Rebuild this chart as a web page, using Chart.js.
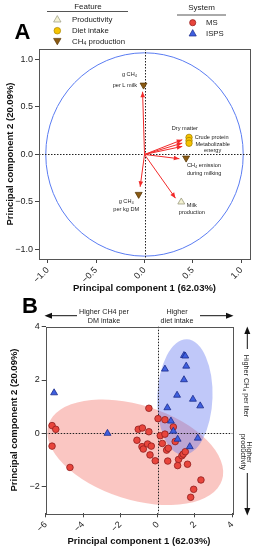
<!DOCTYPE html>
<html>
<head>
<meta charset="utf-8">
<script src="https://cdn.jsdelivr.net/npm/chart.js@4.4.1/dist/chart.umd.min.js"></script>
<style>
  body { margin: 0; width: 255px; height: 550px; background: #fff; position: relative; overflow: hidden; }
  canvas { position: absolute; left: 0; }
  #chartA { top: 0; }
  #chartB { top: 300px; }
  #overlay { position: absolute; left: 0; top: 0; pointer-events: none; }
</style>
</head>
<body>
<canvas id="chartA" width="255" height="300"></canvas>
<canvas id="chartB" width="255" height="250"></canvas>

<svg id="overlay" width="255" height="550" font-family="Liberation Sans, Arial, sans-serif" fill="#222">
  <!-- legend: Feature -->
  <text x="88" y="6" font-size="8" text-anchor="middle" dominant-baseline="central">Feature</text>
  <line x1="47" y1="11.5" x2="128" y2="11.5" stroke="#555" stroke-width="1"/>
  <polygon points="57.3,15.6 53.6,22 61,22" fill="#f4f2d2" stroke="#9a9a80" stroke-width="0.7"/>
  <text x="72" y="19.3" font-size="7.8" dominant-baseline="central">Productivity</text>
  <circle cx="57.3" cy="30.7" r="3.3" fill="#f6c400" stroke="#a88400" stroke-width="0.7"/>
  <text x="72" y="30.7" font-size="7.8" dominant-baseline="central">Diet intake</text>
  <polygon points="53.6,38.4 61,38.4 57.3,44.8" fill="#8b5a12" stroke="#5b3a08" stroke-width="0.7"/>
  <text x="72" y="41.7" font-size="7.8" dominant-baseline="central">CH₄ production</text>
  <!-- legend: System -->
  <text x="201.5" y="7" font-size="8" text-anchor="middle" dominant-baseline="central">System</text>
  <line x1="177" y1="15" x2="226" y2="15" stroke="#555" stroke-width="1"/>
  <circle cx="192.7" cy="22.7" r="3.1" fill="#e8453c" stroke="#8f1d1d" stroke-width="0.7"/>
  <text x="206" y="22.7" font-size="7.8" dominant-baseline="central">MS</text>
  <polygon points="192.7,29.6 189.1,36 196.3,36" fill="#3e5fe0" stroke="#1c2c8a" stroke-width="0.7"/>
  <text x="206" y="33.3" font-size="7.8" dominant-baseline="central">ISPS</text>

  <!-- panel letters -->
  <text x="14.5" y="39" font-size="22" font-weight="bold" fill="#000">A</text>
  <text x="22" y="313" font-size="22" font-weight="bold" fill="#000">B</text>

  <!-- panel B: top arrows -->
  <line x1="51" y1="315.7" x2="77" y2="315.7" stroke="#111" stroke-width="1"/>
  <polygon points="44.5,315.7 52,312.7 52,318.7" fill="#111"/>
  <text x="104" y="311" font-size="7.2" text-anchor="middle" dominant-baseline="central">Higher CH4 per</text>
  <text x="104" y="320" font-size="7.2" text-anchor="middle" dominant-baseline="central">DM intake</text>
  <text x="177" y="311" font-size="7.2" text-anchor="middle" dominant-baseline="central">Higher</text>
  <text x="177" y="320" font-size="7.2" text-anchor="middle" dominant-baseline="central">diet intake</text>
  <line x1="200" y1="315.7" x2="227" y2="315.7" stroke="#111" stroke-width="1"/>
  <polygon points="233.5,315.7 226,312.7 226,318.7" fill="#111"/>

  <!-- panel B: right arrows -->
  <polygon points="247.3,326.5 244.3,334 250.3,334" fill="#111"/>
  <line x1="247.3" y1="333" x2="247.3" y2="349" stroke="#111" stroke-width="1"/>
  <text transform="translate(246.7,386) rotate(90)" font-size="7.2" text-anchor="middle" dominant-baseline="central">Higher CH₄ per liter</text>
  <text transform="translate(249.7,452) rotate(90)" font-size="7.2" text-anchor="middle" dominant-baseline="central">Higher</text>
  <text transform="translate(243.5,452) rotate(90)" font-size="7.2" text-anchor="middle" dominant-baseline="central">productivity</text>
  <line x1="247.3" y1="473" x2="247.3" y2="509" stroke="#111" stroke-width="1"/>
  <polygon points="247.3,515.5 244.3,508 250.3,508" fill="#111"/>
</svg>

<script>
const FONT = '"Liberation Sans", Arial, sans-serif';

// ---- Panel A: loadings ----
const featureNames = ['g CH₄ per L milk', 'Dry matter', 'Crude protein', 'Metabolizable energy',
                      'CH₄ emission during milking', 'g CH₄ per kg DM', 'Milk production'];
const featureGroup = ['ch4', 'diet', 'diet', 'diet', 'ch4', 'ch4', 'prod'];
// arrow tips
const arrowX = [-0.02, 0.39, 0.39, 0.39, 0.36, -0.045, 0.32];
const arrowY = [0.66, 0.155, 0.12, 0.085, -0.045, -0.34, -0.46];
// feature markers
const pointX = [-0.01, 0.46, 0.46, 0.46, 0.43, -0.06, 0.38];
const pointY = [0.73, 0.18, 0.147, 0.118, -0.038, -0.42, -0.50];
const xTicksA = [-1, -0.5, 0, 0.5, 1];
const yTicksA = [-1, -0.5, 0, 0.5, 1];

// ---- Panel B: scores ----
const msX = [-5.66, -5.46, -5.66, -4.70, -0.47, -1.04, -0.82, -0.47, -1.11, -0.84, -0.77, -0.54,
             -0.34, -0.41, -0.13, 0.02, 0.14, 0.25, 0.39, 0.39, 0.48, 0.57, 0.54, 0.84,
             0.94, 1.12, 1.07, 1.30, 1.37, 1.48, 1.60, 2.32, 1.93, 1.77];
const msY = [0.29, 0.15, -0.48, -1.28, 0.94, 0.15, 0.20, 0.06, -0.26, -0.50, -0.59, -0.40,
             -0.48, -0.81, -1.03, 0.55, -0.09, -0.38, 0.51, -0.03, -0.63, -0.56, -1.04, 0.24,
             -0.31, -0.98, -1.21, -0.84, -0.78, -0.69, -1.16, -1.75, -2.10, -2.40];
const ispsX = [-5.55, -2.69, 0.39, 1.41, 1.48, 1.53, 1.41, 1.04, 1.89, 2.28, 0.52, 0.71, 0.84, 1.07, 2.15, 1.72];
const ispsY = [1.52, 0.00, 2.41, 2.92, 2.90, 2.52, 2.01, 1.43, 1.28, 1.03, 0.96, 0.46, 0.08, -0.22, -0.18, -0.50];
const xTicksB = [-6, -4, -2, 0, 2, 4];
const yTicksB = [-2, 0, 2, 4];

// correlation circle and confidence ellipses: centre and semi-axes in data units, tilt in degrees
const circleA = { cx: 0, cy: 0, rx: 1.02, ry: 1.07, tilt: 0, stroke: '#5a7cf2' };
const ellipseMS = { cx: -1.2, cy: -0.71, rx: 4.88, ry: 1.77, tilt: 17.7, fill: 'rgba(244,120,110,0.42)' };
const ellipseISPS = { cx: 1.46, cy: 1.36, rx: 1.48, ry: 2.17, tilt: 2, fill: 'rgba(90,110,240,0.38)' };

// feature labels (anchor of first line in data units)
const labelsA = [
  { lines: ['g CH₄', 'per L milk'], x: -0.078, y: 0.84, align: 'right', gap: 11 },
  { lines: ['Dry matter'], x: 0.417, y: 0.278, align: 'center', gap: 0 },
  { lines: ['Crude protein'], x: 0.518, y: 0.179, align: 'left', gap: 0 },
  { lines: ['Metabolizable', 'energy'], x: 0.704, y: 0.109, align: 'center', gap: 6.7 },
  { lines: ['CH₄ emission', 'during milking'], x: 0.438, y: -0.116, align: 'left', gap: 8.3 },
  { lines: ['g CH₄', 'per kg DM'], x: -0.189, y: -0.495, align: 'center', gap: 8.3 },
  { lines: ['Milk', 'production'], x: 0.489, y: -0.54, align: 'center', gap: 6.3 }
];

function fmt(v, digits) {
  return (v < 0 ? '\u2212' : '') + Math.abs(v).toFixed(digits);
}

function axis(opts) {
  const horiz = opts.horizontal;
  return {
    type: 'linear',
    min: opts.min,
    max: opts.max,
    afterBuildTicks: s => { s.ticks = opts.ticks.map(v => ({ value: v })); },
    afterFit: s => { if (horiz) s.height = opts.size; else s.width = opts.size; },
    grid: { display: true, drawOnChartArea: false, drawTicks: true, tickLength: 4, tickColor: '#444', tickWidth: 1 },
    border: { display: false },
    ticks: {
      font: { family: FONT, size: 9 }, color: '#222', padding: 2, autoSkip: false,
      minRotation: horiz ? 45 : 0, maxRotation: horiz ? 45 : 0,
      callback: v => fmt(v, opts.digits)
    },
    title: {
      display: true, text: opts.title, color: '#111',
      font: { family: FONT, size: 9.5, weight: 'bold' },
      padding: opts.titlePad
    }
  };
}

// frame, zero lines, ellipses
function makeDecor(shapes) {
  return {
    id: 'decor',
    beforeDatasetsDraw(chart) {
      const { ctx, chartArea: a, scales: { x, y } } = chart;
      ctx.save();
      shapes.forEach(e => {
        const cx = x.getPixelForValue(e.cx), cy = y.getPixelForValue(e.cy);
        const rx = Math.abs(x.getPixelForValue(e.cx + e.rx) - cx);
        const ry = Math.abs(y.getPixelForValue(e.cy + e.ry) - cy);
        ctx.beginPath();
        ctx.ellipse(cx, cy, rx, ry, e.tilt * Math.PI / 180, 0, Math.PI * 2);
        if (e.fill) { ctx.fillStyle = e.fill; ctx.fill(); }
        if (e.stroke) { ctx.strokeStyle = e.stroke; ctx.lineWidth = 1; ctx.stroke(); }
      });
      ctx.strokeStyle = '#222';
      ctx.lineWidth = 1;
      ctx.setLineDash([1.5, 1.5]);
      const x0 = Math.round(x.getPixelForValue(0)) + 0.5;
      const y0 = Math.round(y.getPixelForValue(0)) + 0.5;
      ctx.beginPath();
      ctx.moveTo(x0, a.top); ctx.lineTo(x0, a.bottom);
      ctx.moveTo(a.left, y0); ctx.lineTo(a.right, y0);
      ctx.stroke();
      ctx.restore();
    },
    afterDraw(chart) {
      const { ctx, chartArea: a } = chart;
      ctx.save();
      ctx.strokeStyle = '#555';
      ctx.lineWidth = 1;
      ctx.strokeRect(Math.round(a.left) + 0.5, Math.round(a.top) + 0.5,
                     Math.round(a.right - a.left), Math.round(a.bottom - a.top));
      ctx.restore();
    }
  };
}

// arrowheads and feature labels for the loading plot
const loadings = {
  id: 'loadings',
  afterDatasetsDraw(chart) {
    const { ctx, scales: { x, y } } = chart;
    ctx.save();
    chart.data.datasets.forEach((ds, i) => {
      if (!ds.arrow) return;
      const pts = chart.getDatasetMeta(i).data;
      const p0 = pts[0], p1 = pts[1];
      const ang = Math.atan2(p1.y - p0.y, p1.x - p0.x);
      const len = 5.5, hw = 2.3;
      ctx.beginPath();
      ctx.moveTo(p1.x, p1.y);
      ctx.lineTo(p1.x - len * Math.cos(ang) + hw * Math.sin(ang), p1.y - len * Math.sin(ang) - hw * Math.cos(ang));
      ctx.lineTo(p1.x - len * Math.cos(ang) - hw * Math.sin(ang), p1.y - len * Math.sin(ang) + hw * Math.cos(ang));
      ctx.closePath();
      ctx.fillStyle = '#f22a2a';
      ctx.fill();
    });
    ctx.fillStyle = '#222';
    ctx.font = '5.6px ' + FONT;
    ctx.textBaseline = 'middle';
    labelsA.forEach(l => {
      ctx.textAlign = l.align;
      const px = x.getPixelForValue(l.x), py = y.getPixelForValue(l.y);
      l.lines.forEach((t, k) => ctx.fillText(t, px, py + k * l.gap));
    });
    ctx.restore();
  }
};

// ---- Chart A ----
const groupStyle = {
  prod: { pointStyle: 'triangle', rotation: 0, radius: 4, bg: '#f4f2d2', border: '#9a9a80' },
  diet: { pointStyle: 'circle', rotation: 0, radius: 3.2, bg: '#f6c400', border: '#a88400' },
  ch4: { pointStyle: 'triangle', rotation: 180, radius: 4, bg: '#8b5a12', border: '#5b3a08' }
};
const markerSets = Object.keys(groupStyle).map(g => {
  const st = groupStyle[g];
  const data = [];
  featureGroup.forEach((fg, i) => { if (fg === g) data.push({ x: pointX[i], y: pointY[i] }); });
  return {
    label: g, data, pointStyle: st.pointStyle, rotation: st.rotation, pointRadius: st.radius,
    backgroundColor: st.bg, borderColor: st.border, borderWidth: 0.8
  };
});
const arrowSets = featureNames.map((n, i) => ({
  type: 'line', label: n, arrow: true, showLine: true,
  data: [{ x: 0, y: 0 }, { x: arrowX[i], y: arrowY[i] }],
  borderColor: '#f22a2a', borderWidth: 1, pointRadius: 0, fill: false
}));

new Chart(document.getElementById('chartA'), {
  type: 'scatter',
  data: { datasets: [...markerSets, ...arrowSets] },
  options: {
    responsive: false, animation: false, devicePixelRatio: 1,
    layout: { padding: { top: 49, right: 5, left: 0, bottom: 0 } },
    scales: {
      x: axis({ horizontal: true, min: -1.09, max: 1.09, ticks: xTicksA, digits: 1, size: 41,
                title: 'Principal component 1 (62.03%)', titlePad: { top: 0, bottom: 6 } }),
      y: axis({ horizontal: false, min: -1.1, max: 1.11, ticks: yTicksA, digits: 1, size: 39,
                title: 'Principal component 2 (20.09%)', titlePad: { top: 5, bottom: 0 } })
    },
    plugins: { legend: { display: false }, tooltip: { enabled: false } }
  },
  plugins: [makeDecor([circleA]), loadings]
});

// ---- Chart B ----
new Chart(document.getElementById('chartB'), {
  type: 'scatter',
  data: {
    datasets: [
      {
        label: 'ISPS', data: ispsX.map((v, i) => ({ x: v, y: ispsY[i] })),
        pointStyle: 'triangle', pointRadius: 4, backgroundColor: '#3e5fe0', borderColor: '#1c2c8a', borderWidth: 0.8
      },
      {
        label: 'MS', data: msX.map((v, i) => ({ x: v, y: msY[i] })),
        pointStyle: 'circle', pointRadius: 3.3, backgroundColor: '#e8453c', borderColor: '#8f1d1d', borderWidth: 0.8
      }
    ]
  },
  options: {
    responsive: false, animation: false, devicePixelRatio: 1,
    layout: { padding: { top: 26.7, right: 22.7, left: 0, bottom: 0 } },
    scales: {
      x: axis({ horizontal: true, min: -6, max: 4, ticks: xTicksB, digits: 0, size: 36.7,
                title: 'Principal component 1 (62.03%)', titlePad: { top: 0, bottom: 2.6 } }),
      y: axis({ horizontal: false, min: -3, max: 4, ticks: yTicksB, digits: 0, size: 45.7,
                title: 'Principal component 2 (20.09%)', titlePad: { top: 8.3, bottom: 0 } })
    },
    plugins: { legend: { display: false }, tooltip: { enabled: false } }
  },
  plugins: [makeDecor([ellipseMS, ellipseISPS])]
});
</script>
</body>
</html>
